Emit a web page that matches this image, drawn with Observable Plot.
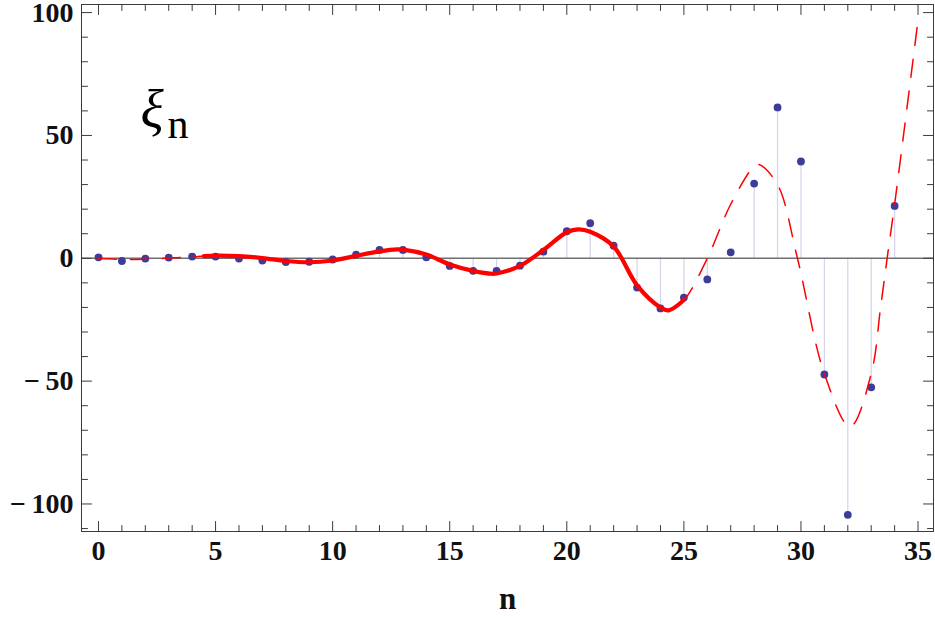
<!DOCTYPE html>
<html><head><meta charset="utf-8">
<script src="https://cdn.jsdelivr.net/npm/d3@7"></script>
<script src="https://cdn.jsdelivr.net/npm/@observablehq/plot@0.6"></script>
<style>html,body{margin:0;padding:0;background:#fff;} #chart{width:935px;height:618px;}</style>
</head><body><div id="chart"></div>
<script>
// sampled values xi_n
const nValues  = [0,1,2,3,4,5,6,7,8,9,10,11,12,13,14,15,16,17,18,19,20,21,22,23,24,25,26,27,28,29,30,31,32,33,34];
const xiValues = [0.4,-1.1,-0.1,0.3,0.7,0.7,-0.1,-0.9,-1.5,-1.4,-0.5,1.5,3.4,3.4,0.4,-3.1,-5.1,-5.1,-3.0,2.7,11.0,14.3,5.1,-11.9,-20.4,-16.0,-8.6,2.4,30.4,61.4,39.4,-47.3,-104.4,-52.5,21.3];

// fitted curve
const curveN  = [0,1,2,3,4,4.5,5,6,7,8,9,10,11,12,12.75,13,14,15,16,16.8,17,18,19,20,20.5,21,22,23,24,24.35,25,26,27,28,28.2,29,29.85,31,32.1,33,33.4,33.68,34,35];
const curveXi = [-0.1,-0.4,-0.4,0.1,0.6,0.9,1.1,0.9,0.1,-1.1,-1.6,-0.9,1.0,2.8,3.6,3.5,1.5,-2.5,-5.1,-6.3,-6.2,-3.1,3.4,10.6,11.8,10.8,4.8,-11,-20,-21.2,-17,0,22,37.5,38.2,30,0,-47,-68.5,-47,-20,0,22,97];
const solidFrom = 4.5, solidTo = 25;

const xMajorTicks = [0,5,10,15,20,25,30,35];
const xMinorTicks = [1,2,3,4,6,7,8,9,11,12,13,14,16,17,18,19,21,22,23,24,26,27,28,29,31,32,33,34];
const yMajorTicks = [-100,-50,0,50,100];
const yMinorTicks = [-110,-90,-80,-70,-60,-40,-30,-20,-10,10,20,30,40,60,70,80,90];

const points = nValues.map((n, i) => ({n, v: xiValues[i]}));
const curve = curveN.map((n, i) => ({n, v: curveXi[i]}));
const solid = curve.filter(d => d.n >= solidFrom && d.n <= solidTo);

const tickShape = {draw(ctx, l) { ctx.moveTo(0, 0); ctx.lineTo(0, -l); }};
const frameColor = "#3a3a3a";
function ticks(data, side, len) {
  const o = {length: len, anchor: "start", shape: tickShape, stroke: frameColor, strokeWidth: 1};
  if (side === "bottom") return Plot.vector(data, {...o, x: d => d, frameAnchor: "bottom", rotate: 0});
  if (side === "top") return Plot.vector(data, {...o, x: d => d, frameAnchor: "top", rotate: 180});
  if (side === "left") return Plot.vector(data, {...o, y: d => d, frameAnchor: "left", rotate: 90});
  return Plot.vector(data, {...o, y: d => d, frameAnchor: "right", rotate: -90});
}
const fmt = d => d < 0 ? "\u2212\u2009" + (-d) : String(d);
const serif = "Liberation Serif, Times New Roman, Times, serif";

const chart = Plot.plot({
  width: 935, height: 618,
  marginLeft: 81, marginRight: 2, marginTop: 4, marginBottom: 87,
  x: {domain: [-0.726, 35.66]},
  y: {domain: [-111.2, 103.3]},
  style: {fontFamily: serif, background: "#fff"},
  marks: [
    Plot.ruleX(points, {x: "n", y1: 0, y2: "v", stroke: "#d6d6ea", strokeWidth: 1.3}),
    Plot.ruleY([0], {stroke: "#707070", strokeWidth: 1.5}),
    Plot.dot(points, {x: "n", y: "v", r: 3.9, fill: "#3d3d99", stroke: "none"}),
    Plot.line(curve, {x: "n", y: "v", stroke: "#ff0000", strokeWidth: 1.5, strokeDasharray: "18,14", curve: "catmull-rom"}),
    Plot.line(solid, {x: "n", y: "v", stroke: "#ff0000", strokeWidth: 4.2, curve: "catmull-rom", strokeLinecap: "round"}),
    Plot.frame({stroke: frameColor, strokeWidth: 1}),
    ticks(xMajorTicks, "bottom", 10), ticks(xMinorTicks, "bottom", 6),
    ticks(xMajorTicks, "top", 10), ticks(xMinorTicks, "top", 6),
    ticks(yMajorTicks, "left", 10), ticks(yMinorTicks, "left", 6),
    ticks(yMajorTicks, "right", 10), ticks(yMinorTicks, "right", 6),
    Plot.axisX({ticks: xMajorTicks, tickSize: 0, tickPadding: 9, tickFormat: fmt, label: null,
      fontSize: 28, fontWeight: "bold", fontFamily: serif, fill: "#111"}),
    Plot.axisY({ticks: yMajorTicks, tickSize: 0, tickPadding: 8, tickFormat: fmt, label: null,
      fontSize: 28, fontWeight: "bold", fontFamily: serif, fill: "#111"}),
    Plot.text(["n"], {text: d => d, frameAnchor: "bottom", dy: 77, lineAnchor: "bottom",
      fontSize: 31, fontWeight: "bold", fontFamily: serif, fill: "#111"}),
    Plot.text(["\u03BE"], {text: d => d, frameAnchor: "top-left", dx: 59, dy: 123, textAnchor: "start", lineAnchor: "bottom",
      fontSize: 54, fontStyle: "italic", fontFamily: serif, fill: "#000"}),
    Plot.text(["n"], {text: d => d, frameAnchor: "top-left", dx: 86, dy: 133, textAnchor: "start", lineAnchor: "bottom",
      fontSize: 42, fontFamily: serif, fill: "#000"})
  ]
});
document.getElementById("chart").appendChild(chart);
</script>
</body></html>
